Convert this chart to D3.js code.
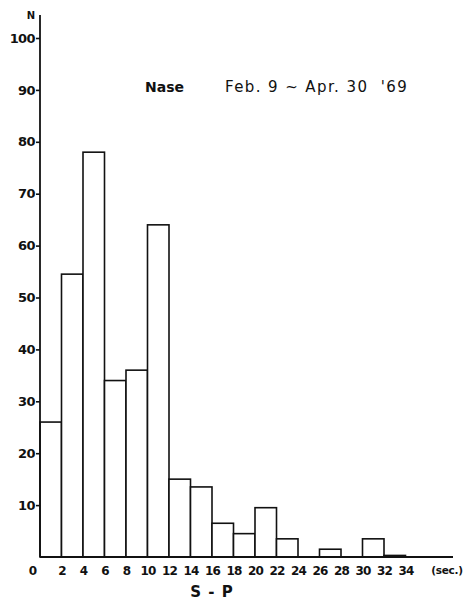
<!DOCTYPE html>
<html>
<head>
<meta charset="utf-8">
<script src="https://cdn.jsdelivr.net/npm/d3@7"></script>
<style>
  body { margin: 0; background: #fff; }
  svg { display: block; }
  text { font-family: "DejaVu Sans", sans-serif; font-weight: bold; fill: #111; }
</style>
</head>
<body>
<svg width="464" height="600"></svg>
<script>
// S-P interval bins (sec.) and counts
const binStarts = [0, 2, 4, 6, 8, 10, 12, 14, 16, 18, 20, 22, 24, 26, 28, 30, 32]
const counts = [26, 54.5, 78, 34, 36, 64, 15, 13.5, 6.5, 4.5, 9.5, 3.5, 0, 1.5, 0, 3.5, 0.3]
const yTicks = [10, 20, 30, 40, 50, 60, 70, 80, 90, 100]
const xTicks = [0, 2, 4, 6, 8, 10, 12, 14, 16, 18, 20, 22, 24, 26, 28, 30, 32, 34]

const svg = d3.select("svg")

const x = d3.scaleLinear().domain([0, 38]).range([40, 448.5])
const y = d3.scaleLinear().domain([0, 100]).range([557, 38])

// Bars
svg.append("g")
  .selectAll("rect")
  .data(binStarts.map((s, i) => ({ s, n: counts[i] })).filter(d => d.n > 0))
  .enter()
  .append("rect")
  .attr("x", d => x(d.s))
  .attr("y", d => y(d.n))
  .attr("width", d => x(d.s + 2) - x(d.s))
  .attr("height", d => y(0) - y(d.n))
  .attr("fill", "#fff")
  .attr("stroke", "#111")
  .attr("stroke-width", 1.6)

// Y axis
const yAxis = svg.append("g")
  .attr("transform", `translate(${x(0)},0)`)
  .call(d3.axisLeft(y).tickValues(yTicks).tickSize(4).tickPadding(1))
yAxis.select(".domain").remove()
yAxis.selectAll(".tick line").attr("stroke", "#111").attr("stroke-width", 1.6)
yAxis.selectAll(".tick text")
  .style("font-size", "13px")
  .attr("letter-spacing", "-0.6")

svg.append("line")
  .attr("x1", x(0)).attr("x2", x(0))
  .attr("y1", y(0)).attr("y2", 15)
  .attr("stroke", "#111").attr("stroke-width", 1.8)

// X axis baseline
svg.append("line")
  .attr("x1", x(0)).attr("x2", 453)
  .attr("y1", y(0)).attr("y2", y(0))
  .attr("stroke", "#111").attr("stroke-width", 1.8)

const xAxis = svg.append("g")
  .attr("transform", `translate(0,${y(0)})`)
  .call(d3.axisBottom(x).tickValues(xTicks).tickSize(0).tickPadding(9))
xAxis.select(".domain").remove()
xAxis.selectAll(".tick text")
  .style("font-size", "12px")
  .attr("letter-spacing", "-0.8")
  .attr("dx", d => d === 0 ? -8 : 0)

svg.append("text")
  .attr("x", 447).attr("y", 574)
  .attr("text-anchor", "middle")
  .style("font-size", "10.5px")
  .attr("letter-spacing", "-0.3")
  .text("(sec.)")

// Labels
svg.append("text")
  .attr("x", 31).attr("y", 19)
  .attr("text-anchor", "middle")
  .style("font-size", "10px")
  .text("N")

svg.append("text")
  .attr("x", 212).attr("y", 597)
  .attr("text-anchor", "middle")
  .style("font-size", "15px")
  .attr("letter-spacing", "1")
  .text("S - P")

svg.append("text")
  .attr("x", 145).attr("y", 92)
  .style("font-size", "14px")
  .text("Nase")

svg.append("text")
  .attr("x", 225).attr("y", 92)
  .style("font-size", "15px")
  .style("font-weight", "normal")
  .style("white-space", "pre")
  .attr("letter-spacing", "1.4")
  .text("Feb. 9 ~ Apr. 30  '69")
</script>
</body>
</html>
